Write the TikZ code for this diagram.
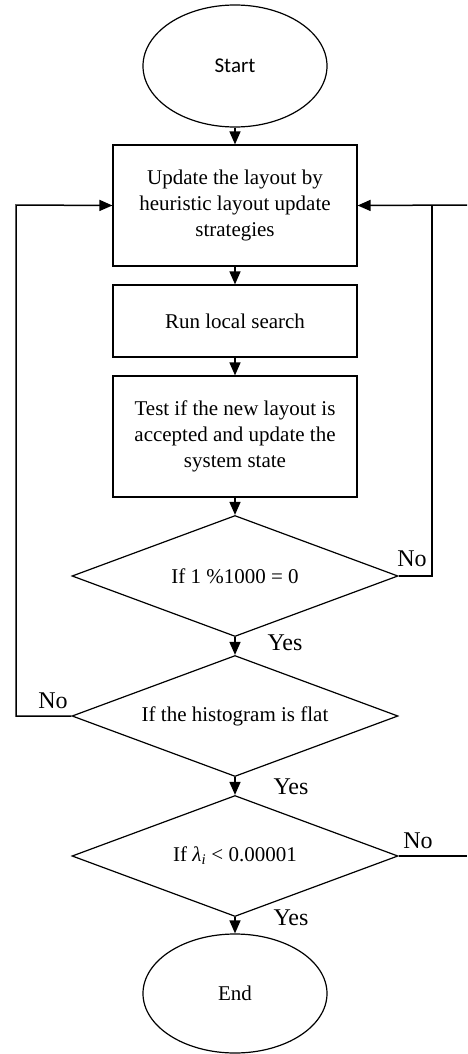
\documentclass[tikz,border=0pt]{standalone}
\usepackage{fontspec}
\setmainfont{Liberation Serif}
\newfontfamily\calibrifont{Carlito}
\usepackage{tikz}
\usetikzlibrary{shapes.geometric,arrows.meta,positioning}

\begin{document}
\begin{tikzpicture}[
  x=1pt, y=-1pt,
  font=\fontsize{21}{26}\selectfont,
  term/.style={ellipse, draw, line width=1.2pt, minimum width=184pt,
               minimum height=122pt, inner sep=0pt},
  box/.style={rectangle, draw, line width=1.2pt, minimum width=244pt,
              align=center, inner sep=0pt},
  cond/.style={diamond, aspect=2.694, draw, line width=1.2pt, minimum width=326pt,
               minimum height=121pt, inner sep=0pt},
  line/.style={line width=1.5pt},
  arr/.style={-{Triangle[width=11pt,length=13pt]}, line width=1.5pt},
  lbl/.style={font=\fontsize{24}{28}\selectfont, inner sep=0pt}
]
\useasboundingbox (0,0) rectangle (467,1054);

%% Start / End
\node[term] (start) at (235,66) {\calibrifont\fontsize{21}{25}\selectfont Start};
\node[term, minimum height=119pt] (end) at (235,993.5) {End};

%% Process boxes
\node[box, minimum height=121pt] (upd)  at (235,205.5) {Update the layout by\\heuristic layout update\\strategies};
\node[box, minimum height=72pt]  (run)  at (235,321)   {Run local search};
\node[box, minimum height=121pt] (test) at (235,436.5) {Test if the new layout is\\accepted and update the\\system state};

%% Decisions
\node[cond] (iter) at (235,576) {If 1 \%1000 = 0};
\node[cond] (flat) at (235,716) {If the histogram is flat};
\node[cond] (conv) at (235,856) {If {\itshape λ\textsubscript{i}} < 0.00001};

%% Loop corners
\coordinate (rloop) at (432,205);
\coordinate (redge) at (467,205);
\coordinate (lloop) at (16,205);
\coordinate (cedge) at (467,856);

%% Arrows
\draw[arr] (start) -- (upd);
\draw[arr] (upd)   -- (run);
\draw[arr] (run)   -- (test);
\draw[arr] (test)  -- (iter);
\draw[arr] (iter)  -- (flat);
\draw[arr] (flat)  -- (conv);
\draw[arr] (conv)  -- (end);

%% Feedback
\draw[line] (iter.east) -| (rloop);
\draw[arr]  (redge) -- (upd.east);
\draw[arr]  (flat.west) -| (lloop) -- (upd.west);
\draw[line] (conv.east) -- (cedge);

%% Labels
\node[lbl] (no1)  at (412,559) {No};
\node[lbl] (yes1) at (285,643) {Yes};
\node[lbl] (no2)  at (53,701)  {No};
\node[lbl] (yes2) at (291,787) {Yes};
\node[lbl] (no3)  at (418,841) {No};
\node[lbl] (yes3) at (291,918) {Yes};

\end{tikzpicture}
\end{document}
